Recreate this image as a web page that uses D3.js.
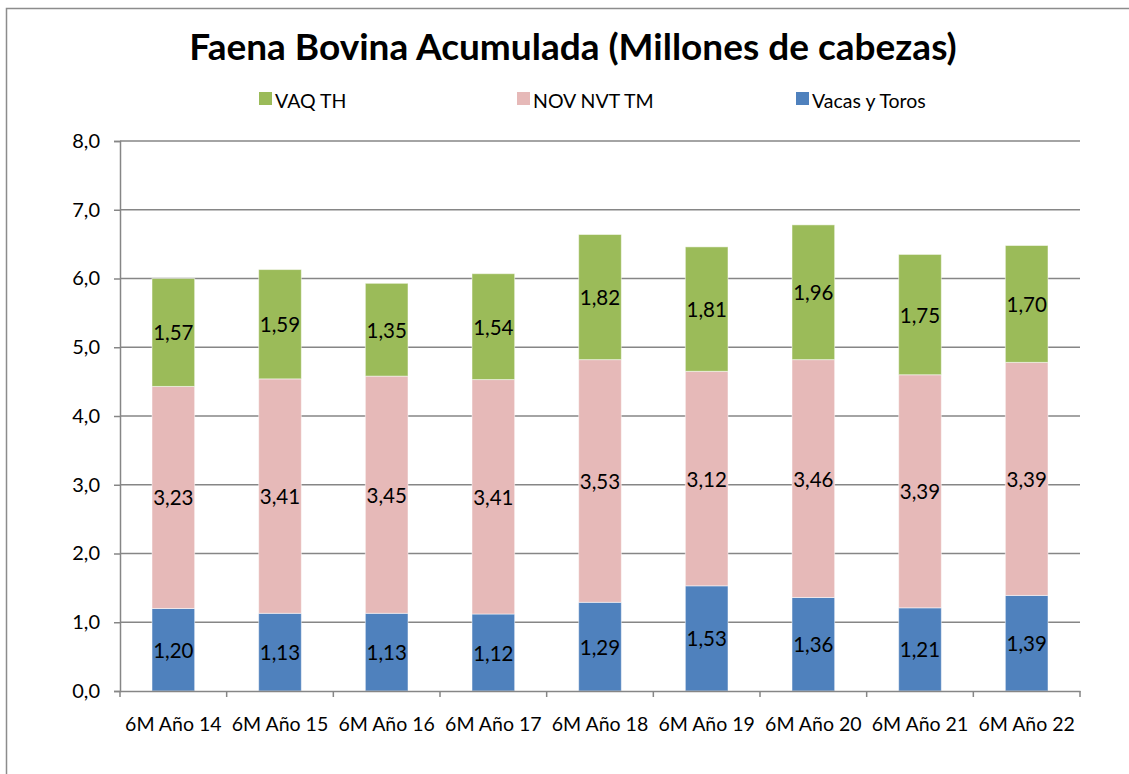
<!DOCTYPE html>
<html>
<head>
<meta charset="utf-8">
<title>Faena Bovina Acumulada</title>
<script src="https://d3js.org/d3.v7.min.js"></script>
<style>
  body { margin: 0; background: #fff; }
  text { font-family: Lato, "Open Sans", sans-serif; fill: #000; }
</style>
</head>
<body>
<script>
// categories and series
const categories = ["6M Año 14", "6M Año 15", "6M Año 16", "6M Año 17", "6M Año 18",
                    "6M Año 19", "6M Año 20", "6M Año 21", "6M Año 22"];
const vacasToros = [1.20, 1.13, 1.13, 1.12, 1.29, 1.53, 1.36, 1.21, 1.39];
const novNvtTm   = [3.23, 3.41, 3.45, 3.41, 3.53, 3.12, 3.46, 3.39, 3.39];
const vaqTh      = [1.57, 1.59, 1.35, 1.54, 1.82, 1.81, 1.96, 1.75, 1.70];
const yTicks = [0, 1, 2, 3, 4, 5, 6, 7, 8];

const seriesNames = ["Vacas y Toros", "NOV NVT TM", "VAQ TH"];
const seriesColors = ["#4F81BD", "#E6B9B8", "#9BBB59"];
const legendOrder = ["VAQ TH", "NOV NVT TM", "Vacas y Toros"];

const W = 1129, H = 774;
const margin = { left: 120, right: 49, top: 141, bottom: 83 };

const svg = d3.select("body").append("svg").attr("width", W).attr("height", H);

// outer frame
svg.append("rect").attr("x", 6.5).attr("y", 8.5).attr("width", W + 10).attr("height", H + 10)
   .attr("fill", "none").attr("stroke", "#8c8c8c").attr("stroke-width", 1.5);

const fmt = v => d3.format(".1f")(v).replace(".", ",");
const fmt2 = v => d3.format(".2f")(v).replace(".", ",");

const x = d3.scaleBand().domain(categories).range([margin.left, W - margin.right]).paddingInner(0).paddingOuter(0);
const y = d3.scaleLinear().domain([0, 8]).range([H - margin.bottom, margin.top]);

// gridlines
svg.append("g").selectAll("line").data(yTicks.slice(1)).join("line")
   .attr("x1", margin.left).attr("x2", W - margin.right)
   .attr("y1", d => y(d)).attr("y2", d => y(d))
   .attr("stroke", "#868686").attr("stroke-width", 1.5);

// stacked data
const rows = categories.map((c, i) => ({
  cat: c, "Vacas y Toros": vacasToros[i], "NOV NVT TM": novNvtTm[i], "VAQ TH": vaqTh[i]
}));
const stack = d3.stack().keys(seriesNames)(rows);
const barW = x.bandwidth() * 0.4;

stack.forEach((layer, li) => {
  const g = svg.append("g");
  g.selectAll("rect").data(layer).join("rect")
    .attr("x", d => x(d.data.cat) + (x.bandwidth() - barW) / 2)
    .attr("width", barW)
    .attr("y", d => y(d[1]))
    .attr("height", d => y(d[0]) - y(d[1]))
    .attr("fill", seriesColors[li])
    .attr("stroke", "rgba(255,255,255,0.5)").attr("stroke-width", 1);
  g.selectAll("text").data(layer).join("text")
    .attr("x", d => x(d.data.cat) + x.bandwidth() / 2)
    .attr("y", d => (y(d[0]) + y(d[1])) / 2)
    .attr("text-anchor", "middle").attr("dominant-baseline", "central")
    .style("font-size", "20.5px")
    .text(d => fmt2(d[1] - d[0]));
});

// y axis
const yAxis = d3.axisLeft(y).tickValues(yTicks).tickFormat(fmt).tickSize(6).tickPadding(14);
const gy = svg.append("g").attr("transform", `translate(${margin.left},0)`).call(yAxis);
gy.select(".domain").attr("stroke", "#868686").attr("stroke-width", 1.5);
gy.selectAll(".tick line").attr("stroke", "#868686").attr("stroke-width", 1.5);
gy.selectAll(".tick text").style("font-size", "20px").attr("fill", "#000");

// x axis
const xAxis = d3.axisBottom(x).tickSize(0).tickPadding(26);
const gx = svg.append("g").attr("transform", `translate(0,${y(0)})`).call(xAxis);
gx.select(".domain").attr("stroke", "#868686").attr("stroke-width", 1.5);
gx.selectAll(".tick text").style("font-size", "19.5px").attr("fill", "#000");
// category separators
gx.selectAll(".sep").data(categories.concat([null])).join("line")
  .attr("x1", (d, i) => margin.left + i * x.step()).attr("x2", (d, i) => margin.left + i * x.step())
  .attr("y1", 0).attr("y2", 6).attr("stroke", "#868686").attr("stroke-width", 1.5);

// title
svg.append("text").attr("x", 573).attr("y", 60).attr("text-anchor", "middle")
   .style("font-size", "37px").style("font-weight", "bold")
   .text("Faena Bovina Acumulada (Millones de cabezas)");

// legend
const legendX = [259, 517, 796];
const lg = svg.append("g");
legendOrder.forEach((name, i) => {
  const color = seriesColors[seriesNames.indexOf(name)];
  lg.append("rect").attr("x", legendX[i]).attr("y", 92).attr("width", 13).attr("height", 13).attr("fill", color);
  lg.append("text").attr("x", legendX[i] + 16).attr("y", 100).attr("dominant-baseline", "central")
    .style("font-size", "19.5px").text(name);
});
</script>
</body>
</html>
